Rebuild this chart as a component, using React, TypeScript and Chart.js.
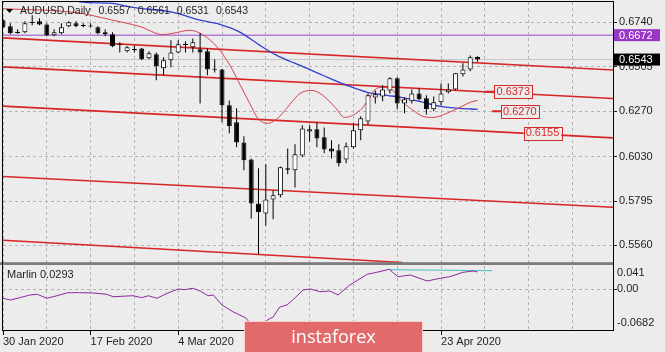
import { useEffect, useRef } from 'react';
import { Chart, registerables } from 'chart.js';

Chart.register(...registerables);

// ---------------- data ----------------
const openP = [
  0.6751, 0.6719, 0.6690, 0.6687, 0.6742, 0.6745, 0.6729, 0.6671, 0.6682, 0.6719,
  0.6735, 0.6726, 0.6723, 0.6714, 0.6687, 0.6677, 0.6626, 0.6587, 0.6599, 0.6602,
  0.6550, 0.6571, 0.6497, 0.6539, 0.6581, 0.6626, 0.6608, 0.6597, 0.6587, 0.6494,
  0.6491, 0.6301, 0.6211, 0.6105, 0.6015, 0.5782, 0.5729, 0.5803, 0.5825, 0.5968,
  0.5957, 0.6036, 0.6163, 0.6174, 0.6132, 0.6073, 0.6063, 0.6015, 0.6079, 0.6169,
  0.6216, 0.6343, 0.6348, 0.6380, 0.6444, 0.6311, 0.6322, 0.6364, 0.6338, 0.6280,
  0.6317, 0.6370, 0.6385, 0.6465, 0.6491, 0.6557,
];
const highP = [
  0.6760, 0.6735, 0.6703, 0.6745, 0.6777, 0.6761, 0.6735, 0.6703, 0.6735, 0.6745,
  0.6745, 0.6735, 0.6735, 0.6719, 0.6703, 0.6687, 0.6634, 0.6613, 0.6618, 0.6605,
  0.6587, 0.6581, 0.6555, 0.6645, 0.6645, 0.6640, 0.6655, 0.6684, 0.6602, 0.6544,
  0.6493, 0.6327, 0.6285, 0.6137, 0.6020, 0.5968, 0.5989, 0.5851, 0.5978, 0.6073,
  0.6095, 0.6195, 0.6195, 0.6211, 0.6184, 0.6116, 0.6095, 0.6105, 0.6206, 0.6243,
  0.6364, 0.6380, 0.6407, 0.6449, 0.6449, 0.6343, 0.6385, 0.6391, 0.6354, 0.6348,
  0.6417, 0.6417, 0.6472, 0.6523, 0.6565, 0.6561,
];
const lowP = [
  0.6708, 0.6677, 0.6679, 0.6682, 0.6724, 0.6724, 0.6666, 0.6666, 0.6677, 0.6714,
  0.6714, 0.6714, 0.6714, 0.6677, 0.6666, 0.6608, 0.6581, 0.6581, 0.6581, 0.6539,
  0.6544, 0.6433, 0.6460, 0.6502, 0.6576, 0.6581, 0.6581, 0.6311, 0.6460, 0.6475,
  0.6211, 0.6153, 0.6079, 0.5957, 0.5703, 0.5513, 0.5666, 0.5698, 0.5814, 0.5936,
  0.5867, 0.6026, 0.6110, 0.6079, 0.6047, 0.6020, 0.5978, 0.5994, 0.6073, 0.6116,
  0.6200, 0.6311, 0.6322, 0.6364, 0.6280, 0.6259, 0.6311, 0.6327, 0.6253, 0.6269,
  0.6301, 0.6364, 0.6380, 0.6454, 0.6481, 0.6531,
];
const closeP = [
  0.6714, 0.6682, 0.6684, 0.6735, 0.6737, 0.6729, 0.6671, 0.6687, 0.6714, 0.6740,
  0.6719, 0.6721, 0.6718, 0.6682, 0.6677, 0.6613, 0.6621, 0.6608, 0.6594, 0.6544,
  0.6576, 0.6507, 0.6539, 0.6581, 0.6624, 0.6620, 0.6634, 0.6581, 0.6491, 0.6489,
  0.6301, 0.6190, 0.6105, 0.6010, 0.5782, 0.5735, 0.5803, 0.5825, 0.5973, 0.5960,
  0.6042, 0.6179, 0.6174, 0.6126, 0.6068, 0.6057, 0.5994, 0.6084, 0.6169, 0.6232,
  0.6354, 0.6359, 0.6385, 0.6444, 0.6311, 0.6333, 0.6364, 0.6333, 0.6280, 0.6317,
  0.6364, 0.6385, 0.6470, 0.6491, 0.6555, 0.6543,
];

const dateTickIdx = [0, 12, 24, 36, 48, 60];
const dateTickText = ['30 Jan 2020', '17 Feb 2020', '4 Mar 2020', '20 Mar 2020', '7 Apr 2020', '23 Apr 2020'];
const gridStepBars = 6;
const priceTicks = [0.6740, 0.6505, 0.6270, 0.6030, 0.5795, 0.5560];

const fastMaIdx = [0, 10.1, 14.7, 18.8, 21.9, 23.3, 25.6, 27, 28.4, 29.5, 31.1, 32.5, 33.8, 34.9, 36.2, 37.3, 38.4, 39.3, 40.7, 42.3, 43.8, 45.5, 46.8, 48.9, 50, 51.2, 52, 53.4, 54.8, 56.2, 57.5, 58.9, 60.8, 62.6, 64, 65];
const fastMaVal = [0.6812, 0.6791, 0.6754, 0.6717, 0.6675, 0.6682, 0.6698, 0.6682, 0.6645, 0.6602, 0.6512, 0.6407, 0.6311, 0.6232, 0.6206, 0.6222, 0.6264, 0.6306, 0.6364, 0.6380, 0.6354, 0.6290, 0.6237, 0.6274, 0.6327, 0.6391, 0.6396, 0.6380, 0.6317, 0.6274, 0.6243, 0.6237, 0.6259, 0.6290, 0.6317, 0.6327];

const slowMaIdx = [9.5, 10.5, 14.7, 17.8, 23.3, 27, 29.7, 32.5, 35.2, 37.5, 39.3, 40.7, 43.8, 47.1, 49.9, 52.6, 55.3, 58.1, 59.9, 62.6, 65];
const slowMaVal = [0.6868, 0.6848, 0.6841, 0.6819, 0.6793, 0.6751, 0.6729, 0.6687, 0.6618, 0.6565, 0.6534, 0.6512, 0.6460, 0.6407, 0.6370, 0.6354, 0.6338, 0.6311, 0.6296, 0.6285, 0.6280];

const channelStartIdx = [0, 0, 0, 0, 0];
const channelStartVal = [0.66575, 0.65043, 0.62966, 0.59245, 0.55878];
const channelEndIdx = [83.56, 83.56, 83.56, 83.56, 54.7];
const channelEndVal = [0.64874, 0.63367, 0.6129, 0.57622, 0.54698];

const levelPrice = 0.6672;
const labelText = ['0.6373', '0.6270', '0.6155'];
const labelPrice = [0.6373, 0.6270, 0.6155];
const labelIdx = [69.9, 70.8, 73.9];
const stubStartIdx = [66.0, 67.0];
const stubEndIdx = [67.4, 68.4];
const stubPrice = [0.6373, 0.6270];

const marlinIdx = [-0.4, 1.0, 2.3, 3.7, 4.7, 6.0, 7.4, 8.9, 10.5, 12.3, 14.2, 15.1, 17.8, 19.0, 19.9, 21.1, 22.5, 24.0, 24.9, 26.0, 27.0, 28.1, 28.8, 30.0, 31.5, 33.2, 34.1, 34.9, 35.6, 36.2, 37.0, 37.9, 38.9, 39.7, 41.1, 42.1, 43.4, 44.8, 45.9, 47.5, 49.9, 51.2, 52.9, 54.1, 55.8, 58.1, 59.9, 61.2, 63.0, 64.4, 65];
const marlinVal = [-0.0139, -0.0178, -0.0139, -0.0094, -0.0082, -0.0149, -0.0106, -0.0055, -0.0055, -0.0060, -0.0082, -0.0123, -0.0106, -0.0139, -0.0106, -0.0149, -0.0065, 0.0007, -0.0005, 0.0019, -0.0027, -0.0106, -0.0094, -0.0262, -0.0375, -0.0475, -0.0598, -0.0682, -0.0615, -0.0514, -0.0464, -0.0296, -0.0262, -0.0178, -0.0010, 0.0007, -0.0039, -0.0027, -0.0094, 0.0074, 0.0254, 0.0287, 0.0338, 0.0213, 0.0242, 0.0141, 0.0187, 0.0213, 0.0287, 0.0309, 0.0293];
const marlinLineIdx = [53, 67];
const marlinLineVal = [0.0331, 0.0314];
const marlinTicks = [0.041, 0, -0.0682];
const marlinTickText = ['0.041', '0.00', '-0.0682'];

// ---------------- layout / style ----------------
const W = 665;
const H = 352;
const BG = '#ececec';
const GRID = '#b3b3b3';
const TEXT = '#1e1e1e';
const FONT = '"Liberation Sans", Arial, sans-serif';
const X_MAX = 83.56;
const Y_MIN = 0.54645;
const Y_MAX = 0.68474;
const Y2_MIN = -0.0682;
const Y2_MAX = 0.0435;
const marlinTickPos = [marlinTicks[0] - 0.0128, marlinTicks[1], marlinTicks[2] + 0.0112];

const pts = (xs: number[], ys: number[]) => xs.map((x, i) => ({ x, y: ys[i] }));

const decor = {
  id: 'decor',
  beforeDraw(chart: any) {
    const { ctx } = chart;
    ctx.save();
    ctx.fillStyle = BG;
    ctx.fillRect(0, 0, chart.width, chart.height);
    ctx.restore();
  },
  afterDraw(chart: any) {
    const { ctx, chartArea } = chart;
    const xs = chart.scales.x;
    const ys = chart.scales.y;
    ctx.save();
    // separator between panels
    ctx.fillStyle = '#7b7b7b';
    ctx.fillRect(0, ys.bottom - 1.3, chartArea.right + 1, 2.8);
    // frame
    ctx.strokeStyle = '#000';
    ctx.lineWidth = 1;
    ctx.strokeRect(chartArea.left - 0.5, chartArea.top - 0.5, chartArea.right - chartArea.left + 1, chartArea.bottom - chartArea.top + 1);

    // title
    ctx.fillStyle = '#000';
    ctx.beginPath();
    ctx.moveTo(6, 9);
    ctx.lineTo(13, 9);
    ctx.lineTo(9.5, 13);
    ctx.closePath();
    ctx.fill();
    ctx.fillStyle = TEXT;
    ctx.font = '10.5px ' + FONT;
    ctx.textBaseline = 'middle';
    ctx.textAlign = 'left';
    const last = openP.length - 1;
    const parts = ['AUDUSD,Daily', openP[last].toFixed(4), highP[last].toFixed(4), lowP[last].toFixed(4), closeP[last].toFixed(4)];
    let tx = 20;
    parts.forEach((p, i) => {
      ctx.fillText(p, tx, 11.5);
      tx += ctx.measureText(p).width + (i === 0 ? 8 : 7);
    });
    ctx.font = '11px ' + FONT;
    ctx.fillText('Marlin ' + marlinVal[marlinVal.length - 1].toFixed(4), 7, 275);

    // red text labels
    ctx.font = '11px ' + FONT;
    ctx.textAlign = 'center';
    labelText.forEach((t, i) => {
      const cx = xs.getPixelForValue(labelIdx[i]);
      const cy = ys.getPixelForValue(labelPrice[i]);
      const w = ctx.measureText(t).width + 4;
      const h = 12.5;
      ctx.fillStyle = BG;
      ctx.fillRect(cx - w / 2, cy - h / 2, w, h);
      ctx.strokeStyle = '#d42a2a';
      ctx.lineWidth = 1;
      ctx.strokeRect(Math.round(cx - w / 2) + 0.5, Math.round(cy - h / 2) + 0.5, Math.round(w), Math.round(h));
      ctx.fillStyle = '#d42a2a';
      ctx.fillText(t, cx, cy + 0.5);
    });

    // right axis price boxes
    ctx.textAlign = 'left';
    const boxes = [
      { v: levelPrice, bg: '#9a35c8' },
      { v: closeP[last], bg: '#000000' },
    ];
    boxes.forEach((b) => {
      const cy = ys.getPixelForValue(b.v);
      ctx.fillStyle = b.bg;
      ctx.fillRect(chartArea.right + 1, cy - 6, 46, 12);
      ctx.fillStyle = '#ffffff';
      ctx.fillText(b.v.toFixed(4), chartArea.right + 6, cy + 0.5);
    });

    // watermark
    const wx = 244, wy = 321, ww = 179, wh = 40;
    ctx.fillStyle = '#e36a6a';
    ctx.fillRect(wx, wy, ww, wh);
    ctx.strokeStyle = 'rgba(255,235,235,0.8)';
    ctx.strokeRect(wx + 0.5, wy + 0.5, ww - 1, wh);
    ctx.fillStyle = '#ffffff';
    ctx.font = '18px "Open Sans", "Noto Sans", sans-serif';
    ctx.textAlign = 'center';
    ctx.textBaseline = 'alphabetic';
    ctx.fillText('instaforex', wx + ww / 2, 343);
    ctx.restore();
  },
};

export default function App() {
  const ref = useRef<HTMLCanvasElement>(null);
  useEffect(() => {
    const bodyData = openP.map((o, i) => ({ x: i, y: [Math.min(o, closeP[i]), Math.max(o, closeP[i])] }));
    const wickData = openP.map((_, i) => ({ x: i, y: [lowP[i], highP[i]] }));
    const bodyColors = openP.map((o, i) => (closeP[i] >= o ? '#ffffff' : '#000000'));

    const lineBase = { type: 'line', pointRadius: 0, fill: false, yAxisID: 'y' };
    const datasets: any[] = [
      { type: 'bar', data: bodyData, backgroundColor: bodyColors, borderColor: '#000', borderWidth: 1, borderSkipped: false, maxBarThickness: 5, grouped: false, order: 1, yAxisID: 'y' },
      { type: 'bar', data: wickData, backgroundColor: '#000', borderWidth: 0, maxBarThickness: 1, grouped: false, order: 2, yAxisID: 'y' },
      { ...lineBase, data: pts(fastMaIdx, fastMaVal), borderColor: '#d8404e', borderWidth: 1, cubicInterpolationMode: 'monotone', order: 3 },
      { ...lineBase, data: pts(slowMaIdx, slowMaVal), borderColor: '#3040cc', borderWidth: 1.3, cubicInterpolationMode: 'monotone', order: 3 },
      ...channelStartIdx.map((s, i) => ({ ...lineBase, data: [{ x: s, y: channelStartVal[i] }, { x: channelEndIdx[i], y: channelEndVal[i] }], borderColor: '#d62626', borderWidth: 1.6, order: 4 })),
      ...stubStartIdx.map((s, i) => ({ ...lineBase, data: [{ x: s, y: stubPrice[i] }, { x: stubEndIdx[i], y: stubPrice[i] }], borderColor: '#d62626', borderWidth: 2, order: 4 })),
      { ...lineBase, data: [{ x: 0, y: levelPrice }, { x: X_MAX, y: levelPrice }], borderColor: '#b37ed8', borderWidth: 1.5, order: 5 },
      { ...lineBase, data: [{ x: 0, y: closeP[closeP.length - 1] }, { x: X_MAX, y: closeP[closeP.length - 1] }], borderColor: '#c6c6c6', borderWidth: 1, order: 6 },
      { ...lineBase, data: pts(marlinIdx, marlinVal), borderColor: '#8b2a9e', borderWidth: 1, tension: 0, yAxisID: 'y2', order: 3 },
      { ...lineBase, data: pts(marlinLineIdx, marlinLineVal), borderColor: '#48c0c0', borderWidth: 1, yAxisID: 'y2', order: 4 },
    ];

    const chart = new Chart(ref.current as HTMLCanvasElement, {
      type: 'line',
      data: { datasets },
      plugins: [decor],
      options: {
        animation: false,
        responsive: false,
        devicePixelRatio: 1,
        events: [],
        layout: { padding: { left: 3, top: 2, right: 0, bottom: 0 } },
        plugins: { legend: { display: false }, tooltip: { enabled: false }, title: { display: false } },
        font: { family: FONT, size: 11 },
        scales: {
          x: {
            type: 'linear',
            min: 0,
            max: X_MAX,
            offset: false,
            afterBuildTicks: (s: any) => {
              const t = [];
              for (let v = 0; v <= X_MAX; v += gridStepBars) t.push({ value: v });
              s.ticks = t;
            },
            afterFit: (s: any) => { s.height = 22; s.paddingLeft = 0; s.paddingRight = 0; },
            ticks: {
              autoSkip: false,
              maxRotation: 0,
              minRotation: 0,
              align: 'start',
              padding: 0,
              color: TEXT,
              font: { family: FONT, size: 11 },
              callback: (v: any) => { const k = dateTickIdx.indexOf(Number(v)); return k >= 0 ? dateTickText[k] : ''; },
            },
            grid: {
              color: GRID,
              offset: false,
              tickLength: 5,
              tickColor: (c: any) => (dateTickIdx.includes(c.tick && c.tick.value) ? '#000' : 'rgba(0,0,0,0)'),
              tickBorderDash: [],
            },
            border: { display: false, dash: [3, 3] },
          },
          y: {
            type: 'linear',
            position: 'right',
            stack: 'panels',
            stackWeight: 261.5,
            min: Y_MIN,
            max: Y_MAX,
            afterBuildTicks: (s: any) => { s.ticks = priceTicks.map((v) => ({ value: v })); },
            afterFit: (s: any) => { s.width = 52; s.paddingTop = 0; s.paddingBottom = 0; },
            ticks: { padding: 2, color: TEXT, font: { family: FONT, size: 11 }, callback: (v: any) => Number(v).toFixed(4) },
            grid: { color: GRID, tickLength: 4, tickColor: '#222', tickBorderDash: [] },
            border: { display: false, dash: [3, 3] },
          },
          y2: {
            type: 'linear',
            position: 'right',
            stack: 'panels',
            stackWeight: 66.5,
            min: Y2_MIN,
            max: Y2_MAX,
            afterBuildTicks: (s: any) => { s.ticks = marlinTickPos.map((v) => ({ value: v })); },
            afterFit: (s: any) => { s.width = 52; s.paddingTop = 0; s.paddingBottom = 0; },
            ticks: { padding: 0, color: TEXT, font: { family: FONT, size: 11 }, callback: (_v: any, i: number) => marlinTickText[i] },
            grid: {
              color: (c: any) => (c.index === 1 ? GRID : 'rgba(0,0,0,0)'),
              tickLength: 4,
              tickColor: (c: any) => (c.index === 1 ? '#222' : 'rgba(0,0,0,0)'),
              tickBorderDash: [],
            },
            border: { display: false, dash: [3, 3] },
          },
        },
      } as any,
    } as any);
    return () => chart.destroy();
  }, []);

  return (
    <div style={{ position: 'fixed', left: 0, top: 0, width: W, height: H, background: BG }}>
      <canvas ref={ref} width={W} height={H} style={{ display: 'block', width: W, height: H }} />
    </div>
  );
}
